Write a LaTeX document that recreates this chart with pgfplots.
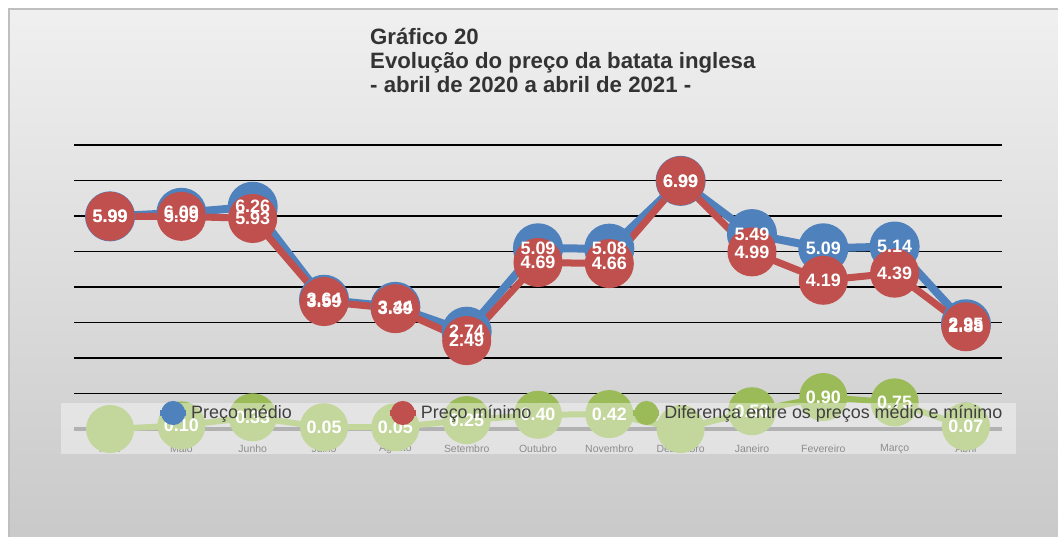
\documentclass[border=0pt]{standalone}
\usepackage{fontspec}
\setmainfont{Liberation Sans}
\usepackage{pgfplots}
\pgfplotsset{compat=1.18}
\definecolor{cblue}{HTML}{4F81BD}
\definecolor{cred}{HTML}{C0504D}
\definecolor{cgreen}{HTML}{9BBB59}
\pgfplotsset{
  chartbase/.style={
    at={(74.4bp,108bp)}, anchor=south west, scale only axis,
    width=927.2bp, height=284bp,
    xmin=-0.5, xmax=12.5, ymin=0, ymax=8, clip=false,
    axis line style={draw=none}, xtick=\empty, major tick length=0pt,
  }
}
\begin{document}
\begin{tikzpicture}
\useasboundingbox (0,0) rectangle (1058bp,537bp);
\fill[white] (0,0) rectangle (1058bp,537bp);
\shade[top color=black!6, bottom color=black!21] (9bp,0bp) rectangle (1058bp,528bp);
\draw[black!25, line width=1.5bp] (9bp,-2bp) -- (9bp,528bp) -- (1060bp,528bp);
\node[anchor=base west, inner sep=0pt, font=\bfseries\fontsize{22.3}{24}\selectfont, text=black!80] at (370bp,492bp) {Gráfico 20};
\node[anchor=base west, inner sep=0pt, font=\bfseries\fontsize{22.3}{24}\selectfont, text=black!80] at (370bp,468bp) {Evolução do preço da batata inglesa};
\node[anchor=base west, inner sep=0pt, font=\bfseries\fontsize{22.3}{24}\selectfont, text=black!80] at (370bp,444bp) {- abril de 2020 a abril de 2021 -};
% ---------- first axis: grid, category names, lines and markers
\begin{axis}[chartbase,
  ytick={1,2,3,4,5,6,7,8}, yticklabels={},
  ymajorgrids, major grid style={black, line width=1.5bp},
]
\draw[black!50, line width=4bp] (axis cs:-0.5,0) -- (axis cs:12.5,0);
\node[text=black!75, font=\fontsize{10.5}{12}\selectfont] at (axis cs:0,0) [yshift=-20bp] {Abril};
\node[text=black!75, font=\fontsize{10.5}{12}\selectfont] at (axis cs:1,0) [yshift=-20bp] {Maio};
\node[text=black!75, font=\fontsize{10.5}{12}\selectfont] at (axis cs:2,0) [yshift=-20bp] {Junho};
\node[text=black!75, font=\fontsize{10.5}{12}\selectfont] at (axis cs:3,0) [yshift=-20bp] {Julho};
\node[text=black!75, font=\fontsize{10.5}{12}\selectfont] at (axis cs:4,0) [yshift=-20bp] {Agosto};
\node[text=black!75, font=\fontsize{10.5}{12}\selectfont] at (axis cs:5,0) [yshift=-20bp] {Setembro};
\node[text=black!75, font=\fontsize{10.5}{12}\selectfont] at (axis cs:6,0) [yshift=-20bp] {Outubro};
\node[text=black!75, font=\fontsize{10.5}{12}\selectfont] at (axis cs:7,0) [yshift=-20bp] {Novembro};
\node[text=black!75, font=\fontsize{10.5}{12}\selectfont] at (axis cs:8,0) [yshift=-20bp] {Dezembro};
\node[text=black!75, font=\fontsize{10.5}{12}\selectfont] at (axis cs:9,0) [yshift=-20bp] {Janeiro};
\node[text=black!75, font=\fontsize{10.5}{12}\selectfont] at (axis cs:10,0) [yshift=-20bp] {Fevereiro};
\node[text=black!75, font=\fontsize{10.5}{12}\selectfont] at (axis cs:11,0) [yshift=-20bp] {Março};
\node[text=black!75, font=\fontsize{10.5}{12}\selectfont] at (axis cs:12,0) [yshift=-20bp] {Abril};
\addplot[cgreen, line width=6bp, mark=*, mark size=21bp, mark options={draw=none, fill=cgreen}]
  coordinates {(0,0) (1,0.10) (2,0.33) (3,0.05) (4,0.05) (5,0.25) (6,0.40) (7,0.42) (8,0) (9,0.50) (10,0.90) (11,0.75) (12,0.07)};
\addplot[cblue, line width=8bp, mark=*, mark size=21bp, mark options={draw=none, fill=cblue}]
  coordinates {(0,5.99) (1,6.09) (2,6.26) (3,3.64) (4,3.44) (5,2.74) (6,5.09) (7,5.08) (8,6.99) (9,5.49) (10,5.09) (11,5.14) (12,2.95)};
\addplot[cred, line width=7bp, mark=*, mark size=21bp, mark options={draw=none, fill=cred}]
  coordinates {(0,5.99) (1,5.99) (2,5.93) (3,3.59) (4,3.39) (5,2.49) (6,4.69) (7,4.66) (8,6.99) (9,4.99) (10,4.19) (11,4.39) (12,2.88)};
\end{axis}
% ---------- semi-transparent legend panel
\fill[white, opacity=0.4] (61bp,83bp) rectangle (1016bp,134bp);
% ---------- second axis: data labels and legend
\begin{axis}[chartbase, ytick=\empty,
  /pgf/number format/fixed, /pgf/number format/fixed zerofill,
  /pgf/number format/precision=2, /pgf/number format/assume math mode=true,
  every node near coord/.append style={anchor=center, text=white, font=\bfseries\fontsize{18}{18}\selectfont},
  legend style={at={(0.0891,0.0563)}, anchor=west, draw=none, fill=none, inner sep=0pt,
    font=\fontsize{18}{20}\selectfont, text=black!75, legend columns=3,
    /tikz/column 2/.style={column sep=93bp},
    /tikz/column 4/.style={column sep=97bp}},
  legend cell align=left,
  legend image code/.code={\draw[mark repeat=2,mark phase=2,#1] plot coordinates {(0bp,0bp) (13bp,0bp) (26bp,0bp)};},
]
\addplot[draw=none, mark=none, nodes near coords, forget plot]
  coordinates {(0,5.99) (1,6.09) (2,6.26) (3,3.64) (4,3.44) (5,2.74) (6,5.09) (7,5.08) (8,6.99) (9,5.49) (10,5.09) (11,5.14) (12,2.95)};
\addplot[draw=none, mark=none, nodes near coords, forget plot]
  coordinates {(0,5.99) (1,5.99) (2,5.93) (3,3.59) (4,3.39) (5,2.49) (6,4.69) (7,4.66) (8,6.99) (9,4.99) (10,4.19) (11,4.39) (12,2.88)};
\addplot[draw=none, mark=none, nodes near coords, forget plot]
  coordinates {(1,0.10) (2,0.33) (3,0.05) (4,0.05) (5,0.25) (6,0.40) (7,0.42) (9,0.50) (10,0.90) (11,0.75) (12,0.07)};
\addlegendimage{cblue, line width=6bp, mark=*, mark size=9bp, mark options={draw=none, fill=cblue}}
\addlegendentry{Preço médio}
\addlegendimage{cred, line width=6bp, mark=*, mark size=9bp, mark options={draw=none, fill=cred}}
\addlegendentry{Preço mínimo}
\addlegendimage{cgreen, line width=6bp, mark=*, mark size=9bp, mark options={draw=none, fill=cgreen}}
\addlegendentry{Diferença entre os preços médio e mínimo}
\end{axis}
\end{tikzpicture}
\end{document}
